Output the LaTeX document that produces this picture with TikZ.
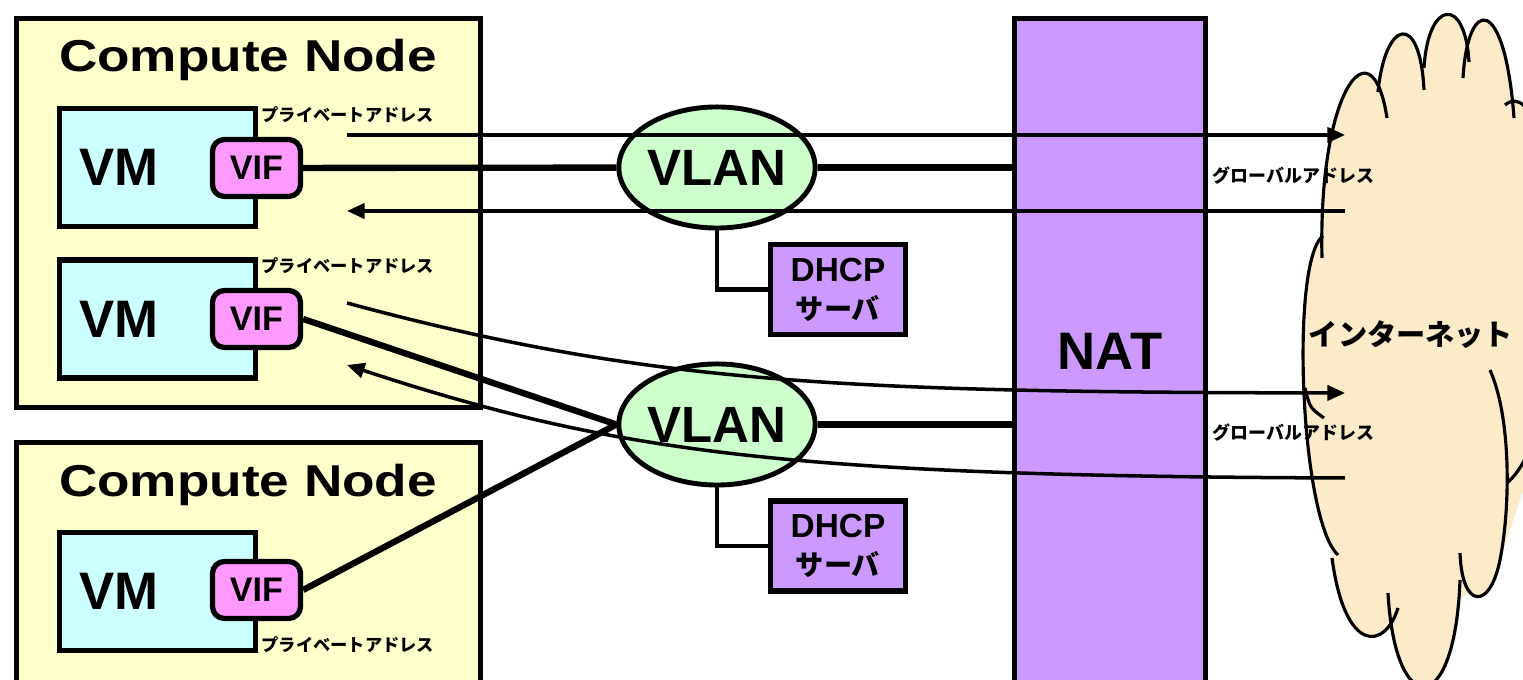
\documentclass[tikz,border=0pt]{standalone}
\usepackage{fontspec}
\setmainfont{Liberation Sans}
\newfontfamily\widesans{Liberation Sans}[FakeStretch=1.19]
\newfontfamily\jp{Noto Sans CJK JP}[BoldFont={Noto Sans CJK JP Black}]
\usetikzlibrary{shapes.geometric,arrows.meta}

\definecolor{cnyellow}{HTML}{FFFFCC}
\definecolor{vmcyan}{HTML}{CCFFFF}
\definecolor{vifpink}{HTML}{FF99FF}
\definecolor{vlangreen}{HTML}{CCFFCC}
\definecolor{natpurple}{HTML}{CC99FF}
\definecolor{cloudfill}{HTML}{FCEBC8}

\tikzset{
  cnbox/.style={draw, line width=1.5pt, fill=cnyellow, minimum width=4.64cm},
  cntitle/.style={anchor=base, inner sep=0pt, font=\widesans\bfseries\fontsize{12.7}{14}\selectfont},
  vmbox/.style={draw, line width=1.5pt, fill=vmcyan, text width=1.56cm, inner xsep=.2cm,
    minimum height=1.18cm, align=left, font=\bfseries\fontsize{15}{18}\selectfont},
  vif/.style={draw, line width=1.5pt, fill=vifpink, rounded corners=.12cm, minimum width=.88cm,
    minimum height=.57cm, inner sep=0pt, font=\bfseries\fontsize{9.7}{11}\selectfont},
  vlan/.style={ellipse, draw, line width=1.4pt, fill=vlangreen, minimum width=1.96cm,
    minimum height=1.21cm, inner sep=0pt, font=\bfseries\fontsize{14.5}{17}\selectfont},
  dhcp/.style={draw, line width=1.5pt, fill=natpurple, minimum width=1.35cm, minimum height=.9cm,
    inner sep=0pt, align=center, font=\bfseries\fontsize{9.5}{10.8}\selectfont},
  addr/.style={anchor=west, inner sep=0pt, font=\jp\bfseries\fontsize{4.9}{6}\selectfont},
  link/.style={line width=1.8pt},
  flow/.style={line width=1pt},
  cloudline/.style={line width=.9pt},
}

\begin{document}
\begin{tikzpicture}[x=.01cm, y=-.01cm, >={Triangle[length=5pt,width=4.3pt]}]
\useasboundingbox (0,0) rectangle (1523,680);

% compute nodes
\node[cnbox, minimum height=3.89cm] (cn1) at (248.5,213) {};
\node[cntitle] (cn1t) at (248,72) {Compute Node};
\node[cnbox, minimum height=2.42cm] (cn2) at (248.5,563.5) {};
\node[cntitle] (cn2t) at (248,497) {Compute Node};

% VMs and their interfaces
\node[vmbox] (vm1) at (157.5,167.5) {VM};
\node[vmbox] (vm2) at (157.5,319) {VM};
\node[vmbox] (vm3) at (157.5,591.5) {VM};
\node[vif] (vif1) at (256.5,168) {VIF};
\node[vif] (vif2) at (256.5,319) {VIF};
\node[vif] (vif3) at (256.5,590) {VIF};
\node[addr] (pa1) at (261,115) {プライベートアドレス};
\node[addr] (pa2) at (261,266) {プライベートアドレス};
\node[addr] (pa3) at (261,645) {プライベートアドレス};

% networks
\node[vlan] (vlan1) at (717,167.5) {VLAN};
\node[vlan] (vlan2) at (717,424.5) {VLAN};
\node[dhcp] (dhcp1) at (838,289.5) {DHCP\\{\jp\fontsize{8}{10.8}\selectfont サーバ}};
\node[dhcp] (dhcp2) at (838,546) {DHCP\\{\jp\fontsize{8}{10.8}\selectfont サーバ}};
\node[draw, line width=1.5pt, fill=natpurple, minimum width=1.91cm, minimum height=6.66cm,
  font=\bfseries\fontsize{15}{18}\selectfont] (nat) at (1110,351.5) {NAT};

% internet cloud: body, then one wedge per bump
\coordinate (cc) at (1420,360);
\fill[cloudfill] (1326,250) -- (1340,130) -- (1390,110) -- (1530,110) -- (1530,470)
  -- (1500,560) -- (1460,600) -- (1400,610) -- (1340,550) -- (1308,430) -- cycle;
\fill[cloudfill] (cc) -- (1322,258) .. controls (1318,90) and (1372,20) .. (1387,118)
  -- (cc) -- (1378,92) .. controls (1385,20) and (1420,10) .. (1424,90)
  -- (cc) -- (1424,68) .. controls (1428,0) and (1465,-5) .. (1469,62)
  -- (cc) -- (1463,78) .. controls (1468,-5) and (1505,-5) .. (1514,118)
  -- (cc) -- (1505,105) .. controls (1560,60) and (1580,420) .. (1508,482)
  -- (cc) -- (1490,370) .. controls (1512,420) and (1510,510) .. (1500,560)
     .. controls (1490,610) and (1462,610) .. (1460,553)
  -- (cc) -- (1460,580) .. controls (1455,720) and (1395,720) .. (1388,593)
  -- (cc) -- (1398,608) .. controls (1385,650) and (1345,655) .. (1332,558)
  -- (cc) -- (1338,555) .. controls (1300,520) and (1290,260) .. (1323,236) -- cycle;
\draw[cloudline] (1322,258) .. controls (1318,90) and (1372,20) .. (1387,118);
\draw[cloudline] (1378,92) .. controls (1385,20) and (1420,10) .. (1424,90);
\draw[cloudline] (1424,68) .. controls (1428,0) and (1465,-5) .. (1469,62);
\draw[cloudline] (1463,78) .. controls (1468,-5) and (1505,-5) .. (1514,118);
\draw[cloudline] (1505,105) .. controls (1560,60) and (1580,420) .. (1508,482);
\draw[cloudline] (1490,370) .. controls (1512,420) and (1510,510) .. (1500,560)
  .. controls (1490,610) and (1462,610) .. (1460,553);
\draw[cloudline] (1460,580) .. controls (1455,720) and (1395,720) .. (1388,593);
\draw[cloudline] (1398,608) .. controls (1385,650) and (1345,655) .. (1332,558);
\draw[cloudline] (1338,555) .. controls (1300,520) and (1290,260) .. (1323,236);
\draw[cloudline] (1305,388) .. controls (1310,408) .. (1324,418);
\node[font=\jp\bfseries\fontsize{8.3}{10}\selectfont] (inet) at (1411,335) {インターネット};

% links
\draw[link] (vif1) -- (vlan1);
\draw[link] (vlan1) -- (vlan1 -| nat.west);
\draw[link] (vif2.east) -- (vlan2.west);
\draw[link] (vif3.east) -- (vlan2.west);
\draw[link] (vlan2) -- (vlan2 -| nat.west);
\draw[line width=1.4pt] (vlan1.south) |- (dhcp1.west);
\draw[line width=1.4pt] (vlan2.south) |- (dhcp2.west);

% traffic through NAT
\coordinate (up1) at (347,135);
\coordinate (net1) at (1345,135);
\coordinate (back1) at (1345,211);
\coordinate (dn1) at (347,211);
\coordinate (up2) at (347,303);
\coordinate (net2) at (1345,393);
\coordinate (back2) at (1345,478);
\coordinate (dn2) at (347,365);
\draw[flow,->] (up1) -- (net1);
\draw[flow,->] (back1) -- (dn1);
\draw[flow,->] (up2) .. controls (650,385) and (850,392) .. (net2);
\draw[flow,->] (back2) .. controls (800,476) and (620,455) .. (dn2);
\node[addr, font=\jp\bfseries\fontsize{5.1}{6}\selectfont] (ga1) at (1212,176) {グローバルアドレス};
\node[addr, font=\jp\bfseries\fontsize{5.1}{6}\selectfont] (ga2) at (1212,433) {グローバルアドレス};
\end{tikzpicture}
\end{document}
